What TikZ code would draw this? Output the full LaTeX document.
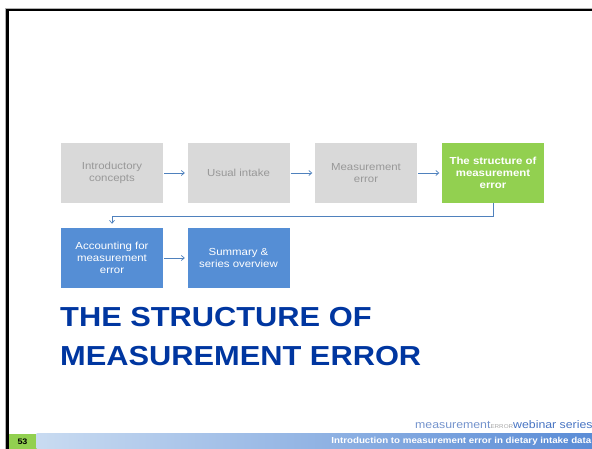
\documentclass[tikz,border=0pt]{standalone}
\usepackage{fontspec}
\setmainfont[FakeStretch=1.12]{Liberation Sans}
\usetikzlibrary{arrows.meta}
\definecolor{greybox}{HTML}{D9D9D9}
\definecolor{greytext}{HTML}{989898}
\definecolor{greenbox}{HTML}{92D050}
\definecolor{bluebox}{HTML}{558ED5}
\definecolor{arrowblue}{HTML}{4F81BD}
\definecolor{titleblue}{HTML}{0036A0}
\definecolor{barlight}{HTML}{C9DBF1}
\definecolor{bardark}{HTML}{5A8CD6}
\definecolor{logoblue}{HTML}{7493CC}
\definecolor{logodark}{HTML}{4673C2}
\tikzset{
  stagebox/.style={minimum width=102pt, minimum height=60pt, inner sep=0pt,
    align=center, font=\fontsize{10.2}{11.7}\selectfont},
  pastbox/.style={stagebox, fill=greybox, text=greytext},
  nowbox/.style={stagebox, fill=greenbox, text=white, font=\fontsize{10.2}{11.7}\selectfont\bfseries},
  nextbox/.style={stagebox, fill=bluebox, text=white},
  flow/.style={draw=arrowblue, line width=0.7pt,
    -{Straight Barb[length=3pt, width=5pt, line width=0.7pt]}},
  titleline/.style={anchor=base west, inner sep=0pt, text=titleblue,
    font=\fontsize{27.5}{33}\selectfont\bfseries},
}
\begin{document}
\begin{tikzpicture}[x=1pt, y=-1pt]
\useasboundingbox (0,0) rectangle (592,449);
\begin{scope}
\clip (0,0) rectangle (592,449);

% slide frame
\draw[gray!60, line width=0.8pt] (5.6,449) -- (5.6,8.4) -- (592,8.4);
\draw[black, line width=2.3pt] (7.4,449) -- (7.4,10.2) -- (592,10.2);

% process boxes
\node[pastbox] (intro) at (112,173) {Introductory\\concepts};
\node[pastbox] (usual) at (238.5,173) {Usual intake};
\node[pastbox] (meas) at (366,173) {Measurement\\error};
\node[nowbox] (struct) at (493,173) {The structure of\\measurement\\error};
\node[nextbox] (acct) at (112,258) {Accounting for\\measurement\\error};
\node[nextbox] (summ) at (238.5,258) {Summary \&\\series overview};

% connectors
\draw[flow, shorten <=1pt, shorten >=2.5pt] (intro) -- (usual);
\draw[flow, shorten <=1pt, shorten >=2.5pt] (usual) -- (meas);
\draw[flow, shorten <=1pt, shorten >=2.5pt] (meas) -- (struct);
\draw[flow, shorten >=4pt] (struct.south) -- ++(0,13) -| (acct.north);
\draw[flow, shorten <=1pt, shorten >=2.5pt] (acct) -- (summ);

% section title
\node[titleline] (title1) at (60,326.7) {THE STRUCTURE OF};
\node[titleline] (title2) at (60,365) {MEASUREMENT ERROR};

% footer
\fill[greenbox] (8.6,433.5) rectangle (36.5,449);
\shade[left color=barlight, right color=bardark] (36.5,433.5) rectangle (592,449);
\node[font=\fontsize{8}{9}\selectfont\bfseries, text=black, inner sep=0pt] (num) at (22.5,441.5) {53};
\node[anchor=east, inner sep=0pt, text=white, font=\fontsize{8.7}{10}\selectfont\bfseries] (foot) at (591.5,441.5)
  {Introduction to measurement error in dietary intake data};
\node[anchor=base west, inner sep=0pt, font=\fontsize{11}{12}\selectfont] (logo) at (415,428)
  {\textcolor{logoblue}{measurement}\textcolor{gray!70}{\fontsize{5.6}{6}\selectfont ERROR}\textcolor{logodark}{webinar series}};
\end{scope}
\end{tikzpicture}
\end{document}
